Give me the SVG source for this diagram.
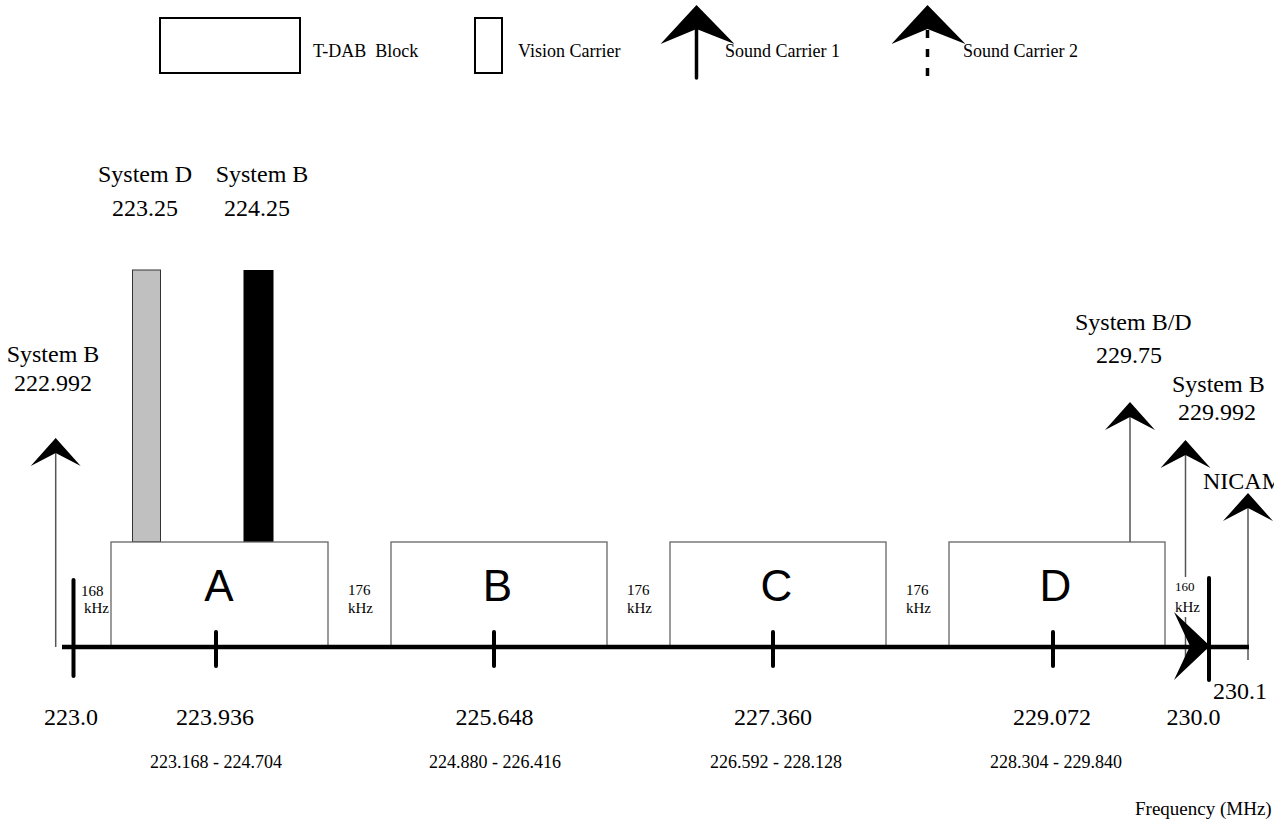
<svg xmlns="http://www.w3.org/2000/svg" width="1284" height="826" viewBox="0 0 1284 826">
<style>
text{font-family:"Liberation Serif","Times New Roman",serif;fill:#000}
.lg{font-size:18px}
.lb{font-size:24px}
.mid{text-anchor:middle}
.kz{font-size:15px}
.kz2{font-size:13px}
.rg{font-size:18px;text-anchor:middle}
.blk{font-family:"Liberation Sans",Arial,sans-serif;font-size:44px;text-anchor:middle}
.box{fill:#fff;stroke:#666;stroke-width:1.3}
.shaft{stroke:#555;stroke-width:1.5;fill:none}
.tick{stroke:#000;stroke-width:4;stroke-linecap:round}
.legbox{fill:#fff;stroke:#000;stroke-width:2}
</style>
<defs>
<path id="hd" d="M0,0 L25,28 L0,15 L-25,28 Z" fill="#000"/>
<path id="lhd" d="M0,0 L38,39 L0,24 L-36,39 Z" fill="#000"/>
<clipPath id="nicamclip"><rect x="1190" y="460" width="84" height="40"/></clipPath>
</defs>
<rect width="1284" height="826" fill="#fff"/>
<g id="legend">
<rect class="legbox" x="160" y="18" width="140" height="55"/>
<text class="lg" x="313" y="57" xml:space="preserve">T-DAB  Block</text>
<rect class="legbox" x="475" y="18" width="27" height="55"/>
<text class="lg" x="518" y="57">Vision Carrier</text>
<line x1="696.5" y1="20" x2="696.5" y2="78" stroke="#000" stroke-width="3.5" stroke-linecap="round"/>
<use href="#lhd" x="696.5" y="5"/>
<text class="lg" x="725" y="57">Sound Carrier 1</text>
<line x1="927.5" y1="30" x2="927.5" y2="76" stroke="#000" stroke-width="3.5" stroke-dasharray="8,11"/>
<use href="#lhd" x="927.5" y="5"/>
<text class="lg" x="963" y="57">Sound Carrier 2</text>
</g>
<g id="vision-carriers">
<g id="vision-d"><rect x="132.5" y="270" width="28" height="272" fill="#c0c0c0" stroke="#333" stroke-width="1"/></g>
<g id="vision-b"><rect x="243.5" y="270" width="30" height="272" fill="#000"/></g>
</g>
<g id="block-a"><rect class="box" x="111" y="542" width="217" height="105"/><text class="blk" x="219" y="601">A</text></g>
<g id="block-b"><rect class="box" x="391" y="542" width="216" height="105"/><text class="blk" x="497.5" y="601">B</text></g>
<g id="block-c"><rect class="box" x="670" y="542" width="216" height="105"/><text class="blk" x="776.5" y="601">C</text></g>
<g id="block-d"><rect class="box" x="949" y="542" width="216" height="105"/><text class="blk" x="1055.5" y="601">D</text></g>
<g id="connectors">
<line class="shaft" x1="55.7" y1="445" x2="55.7" y2="647"/>
<use href="#hd" x="55.7" y="438"/>
<line class="shaft" x1="1130" y1="410" x2="1130" y2="542"/>
<use href="#hd" x="1130" y="402"/>
<line class="shaft" x1="1185.5" y1="448" x2="1185.5" y2="577"/>
<line class="shaft" x1="1185.5" y1="617" x2="1185.5" y2="662"/>
<use href="#hd" x="1185.5" y="440"/>
<line class="shaft" x1="1248" y1="500" x2="1248" y2="660" stroke="#333"/>
<use href="#hd" x="1248" y="493"/>
</g>
<g id="axis">
<line x1="62" y1="647" x2="1249" y2="647" stroke="#000" stroke-width="4.5"/>
<line class="tick" x1="73.5" y1="580" x2="73.5" y2="676" stroke-width="5"/>
<line class="tick" x1="216" y1="632" x2="216" y2="666"/>
<line class="tick" x1="494" y1="632" x2="494" y2="666"/>
<line class="tick" x1="773" y1="632" x2="773" y2="666"/>
<line class="tick" x1="1053" y1="632" x2="1053" y2="666"/>
<line class="tick" x1="1209" y1="578" x2="1209" y2="680" stroke-width="5"/>
<path d="M1210,646 L1174,612 L1190,646 L1174,680 Z" fill="#000"/>
</g>
<g id="labels">
<text class="lb mid" x="53" y="362">System B</text>
<text class="lb mid" x="53" y="391">222.992</text>
<text class="lb mid" x="145" y="182">System D</text>
<text class="lb mid" x="145" y="216">223.25</text>
<text class="lb mid" x="262" y="182">System B</text>
<text class="lb mid" x="257" y="216">224.25</text>
<text class="lb" x="1075" y="330">System B/D</text>
<text class="lb" x="1096" y="363">229.75</text>
<text class="lb" x="1172" y="392">System B</text>
<text class="lb" x="1178" y="420">229.992</text>
<text class="lb" x="1203" y="489" clip-path="url(#nicamclip)">NICAM</text>
<text class="kz" x="81" y="596">168</text>
<text class="kz" x="84" y="613">kHz</text>
<text class="kz" x="348" y="595">176</text>
<text class="kz" x="348" y="613">kHz</text>
<text class="kz" x="627" y="595">176</text>
<text class="kz" x="627" y="613">kHz</text>
<text class="kz" x="906" y="595">176</text>
<text class="kz" x="906" y="613">kHz</text>
<text class="kz2" x="1175" y="591">160</text>
<text class="kz" x="1175" y="612">kHz</text>
<text class="lb mid" x="71" y="725">223.0</text>
<text class="lb mid" x="215" y="725">223.936</text>
<text class="lb mid" x="494.5" y="725">225.648</text>
<text class="lb mid" x="773" y="725">227.360</text>
<text class="lb mid" x="1052" y="725">229.072</text>
<text class="lb mid" x="1193.5" y="725">230.0</text>
<text class="lb" x="1213" y="699">230.1</text>
<text class="rg" x="216" y="768">223.168 - 224.704</text>
<text class="rg" x="495" y="768">224.880 - 226.416</text>
<text class="rg" x="776" y="768">226.592 - 228.128</text>
<text class="rg" x="1056" y="768">228.304 - 229.840</text>
<text class="lg" x="1135" y="815" style="font-size:19px">Frequency (MHz)</text>
</g>
</svg>
